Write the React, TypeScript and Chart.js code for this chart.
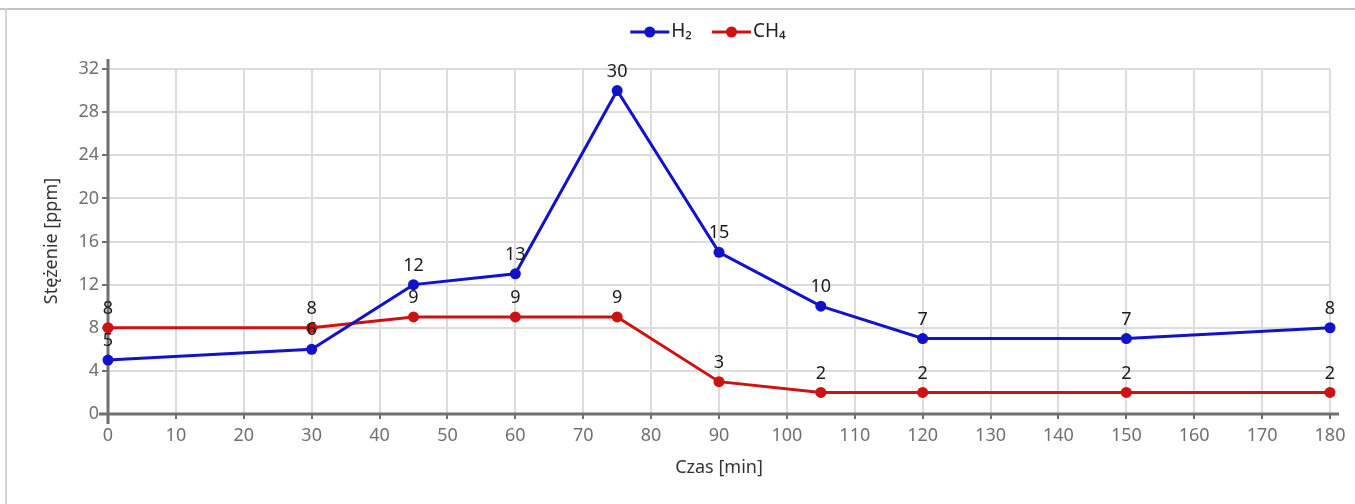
import React, { useEffect, useRef } from "react";
import { Chart, registerables } from "chart.js";

Chart.register(...registerables);

const timeMin = [0, 30, 45, 60, 75, 90, 105, 120, 150, 180];
const h2Values = [5, 6, 12, 13, 30, 15, 10, 7, 7, 8];
const ch4Values = [8, 8, 9, 9, 9, 3, 2, 2, 2, 2];
const seriesNames = ["H₂", "CH₄"];
const seriesColors = ["#1212c8", "#cc1212"];
const xTitle = "Czas [min]";
const yTitle = "Stężenie [ppm]";

const FONT = "'Noto Sans', sans-serif";

const customPlugin = {
  id: "custom",
  beforeDatasetsDraw(chart: any) {
    const { ctx, chartArea, scales } = chart;
    const x = scales.x;
    const y = scales.y;
    ctx.save();
    ctx.strokeStyle = "#707070";
    ctx.lineWidth = 3;
    ctx.lineCap = "butt";
    const x0 = x.getPixelForValue(0);
    const y0 = y.getPixelForValue(0);
    ctx.beginPath();
    ctx.moveTo(x0, chartArea.top - 10);
    ctx.lineTo(x0, chartArea.bottom + 10);
    ctx.stroke();
    ctx.beginPath();
    ctx.moveTo(chartArea.left - 9, y0);
    ctx.lineTo(chartArea.right + 9, y0);
    ctx.stroke();
    ctx.restore();
  },
  afterDatasetsDraw(chart: any) {
    const { ctx } = chart;
    ctx.save();
    ctx.font = `18px ${FONT}`;
    ctx.fillStyle = "#1a1a1a";
    ctx.textAlign = "center";
    ctx.textBaseline = "middle";
    chart.data.datasets.forEach((ds: any, i: number) => {
      const meta = chart.getDatasetMeta(i);
      meta.data.forEach((pt: any, j: number) => {
        ctx.fillText(String(ds.data[j].y), pt.x, pt.y - 19);
      });
    });
    ctx.restore();
  },
  afterDraw(chart: any) {
    const { ctx, chartArea } = chart;
    ctx.save();
    ctx.fillStyle = "#333";
    ctx.font = `18px ${FONT}`;
    ctx.textAlign = "center";
    ctx.textBaseline = "middle";
    ctx.fillText(xTitle, (chartArea.left + chartArea.right) / 2, 458);
    ctx.save();
    ctx.translate(45, 231);
    ctx.rotate(-Math.PI / 2);
    ctx.fillText(yTitle, 0, 0);
    ctx.restore();
    const items = seriesNames.map((n, i) => ({ n, c: seriesColors[i] }));
    ctx.font = `19px ${FONT}`;
    const lineW = 39;
    const gapT = 2;
    const gapItems = 20;
    const widths = items.map((it) => lineW + gapT + ctx.measureText(it.n).width);
    const total = widths.reduce((a, b) => a + b, 0) + gapItems * (items.length - 1);
    let lx = 701 - total / 2;
    const ly = 22;
    items.forEach((it, i) => {
      ctx.strokeStyle = it.c;
      ctx.lineWidth = 3;
      ctx.beginPath();
      ctx.moveTo(lx, ly);
      ctx.lineTo(lx + lineW, ly);
      ctx.stroke();
      ctx.fillStyle = it.c;
      ctx.beginPath();
      ctx.arc(lx + lineW / 2, ly, 5.5, 0, Math.PI * 2);
      ctx.fill();
      ctx.fillStyle = "#222";
      ctx.textAlign = "left";
      ctx.fillText(it.n, lx + lineW + gapT, ly);
      lx += widths[i] + gapItems;
    });
    ctx.restore();
  },
};

export default function App() {
  const ref = useRef<HTMLCanvasElement>(null);
  useEffect(() => {
    if (!ref.current) return;
    const mk = (vals: number[]) => timeMin.map((t, i) => ({ x: t, y: vals[i] }));
    const ds = (i: number, vals: number[]) => ({
      label: seriesNames[i],
      data: mk(vals),
      borderColor: seriesColors[i],
      backgroundColor: seriesColors[i],
      borderWidth: 3,
      pointRadius: 5.5,
      pointHoverRadius: 5.5,
      pointBorderWidth: 0,
      tension: 0,
      clip: false as any,
    });
    const chart = new Chart(ref.current, {
      type: "line",
      data: { datasets: [ds(0, h2Values), ds(1, ch4Values)] as any },
      options: {
        animation: false,
        responsive: false,
        maintainAspectRatio: false,
        layout: { padding: { top: 59, left: 0, right: 25, bottom: 0 } },
        plugins: { legend: { display: false }, tooltip: { enabled: false } },
        scales: {
          x: {
            type: "linear",
            min: 0,
            max: 180,
            afterFit: (s: any) => {
              s.height = 90;
            },
            ticks: {
              stepSize: 10,
              color: "#707070",
              font: { family: FONT, size: 18 },
              padding: 6,
              maxRotation: 0,
            },
            grid: {
              color: "#dcdcdc",
              lineWidth: 2,
              tickLength: 5,
              tickColor: "#707070",
              tickWidth: 2,
            },
            border: { display: false },
          },
          y: {
            min: 0,
            max: 32,
            afterFit: (s: any) => {
              s.width = 101;
            },
            ticks: {
              stepSize: 4,
              color: "#707070",
              font: { family: FONT, size: 18 },
              padding: 3,
            },
            grid: {
              color: "#dcdcdc",
              lineWidth: 2,
              tickLength: 6,
              tickColor: "#707070",
              tickWidth: 2,
            },
            border: { display: false },
          },
        },
      },
      plugins: [customPlugin],
    });
    return () => chart.destroy();
  }, []);
  return (
    <div style={{ position: "absolute", left: 0, top: 0, width: 1355, height: 504, background: "#fff", overflow: "hidden" }}>
      <div style={{ position: "absolute", left: 0, top: 8, width: 1355, height: 0, borderTop: "2px solid #c4c4c4" }} />
      <div style={{ position: "absolute", left: 5, top: 8, width: 0, height: 496, borderLeft: "2px solid #d4d4d4" }} />
      <canvas ref={ref} width={1348} height={494} style={{ position: "absolute", left: 7, top: 10, width: 1348, height: 494 }} />
    </div>
  );
}
